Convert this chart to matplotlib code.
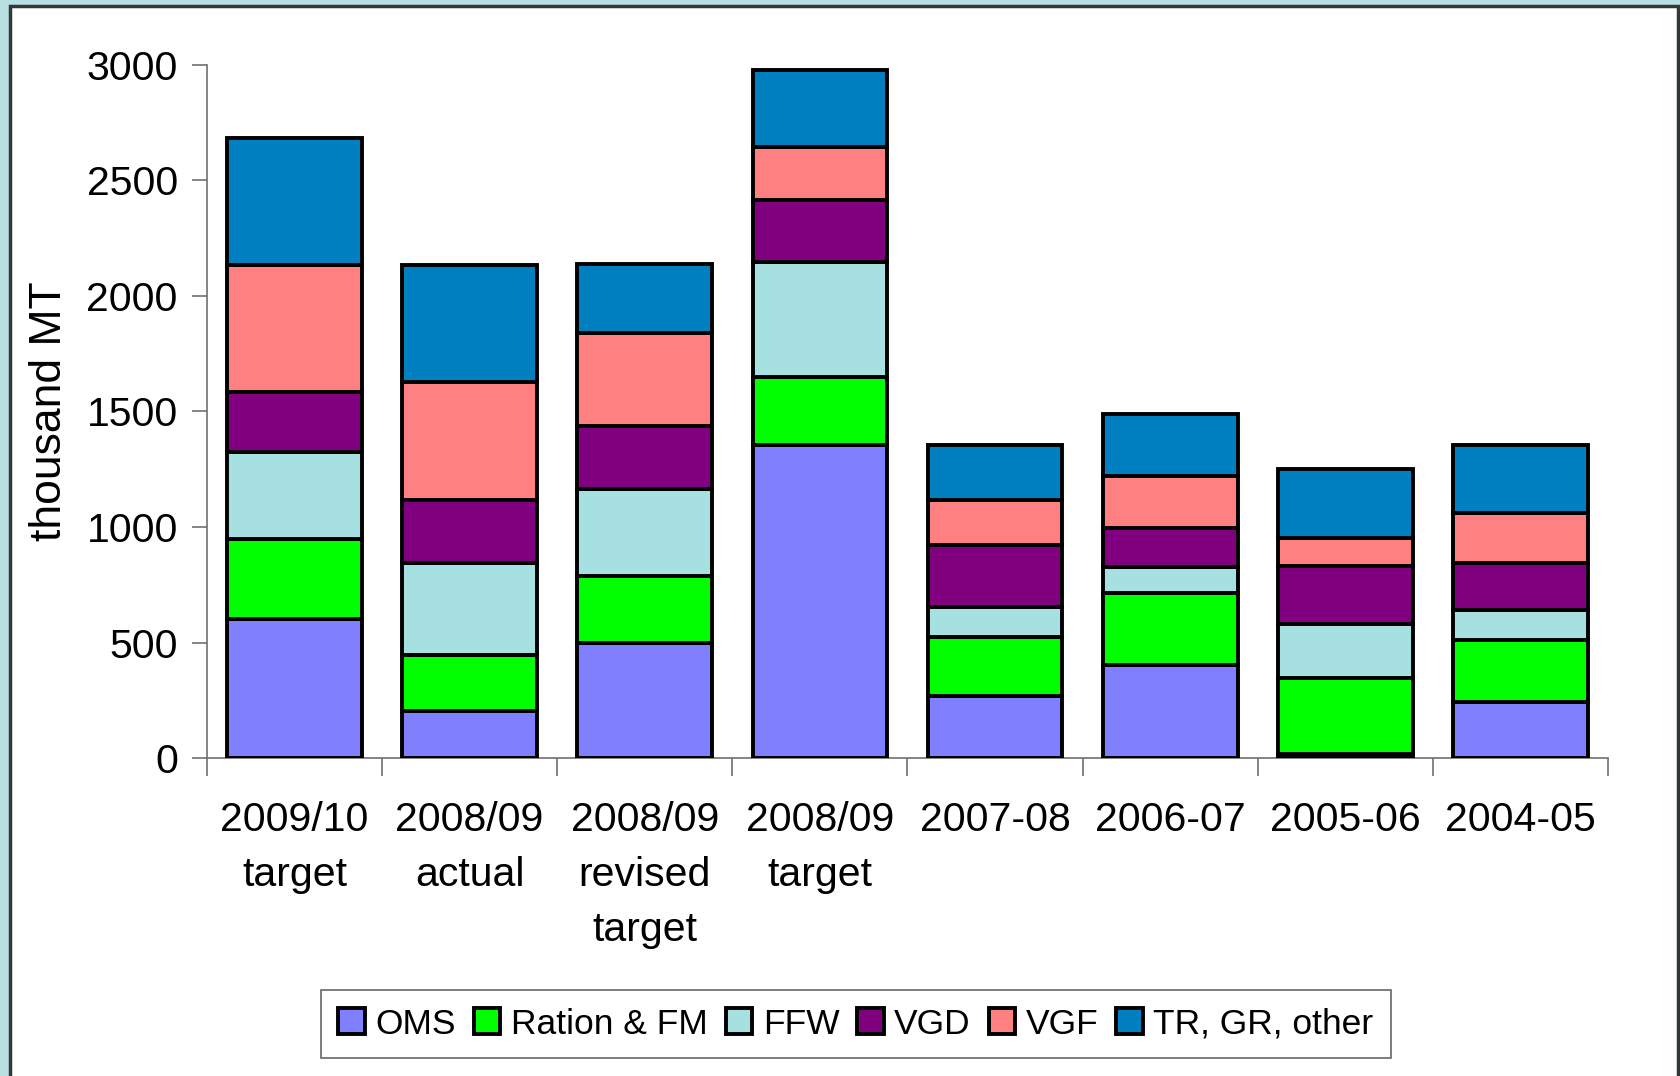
import numpy as np
import matplotlib
matplotlib.use("Agg")
import matplotlib.pyplot as plt
from matplotlib.patches import Rectangle

plt.rcParams['font.family'] = ['Liberation Sans', 'DejaVu Sans']

categories = ["2009/10\ntarget", "2008/09\nactual", "2008/09\nrevised\ntarget",
              "2008/09\ntarget", "2007-08", "2006-07", "2005-06", "2004-05"]
series_names = ["OMS", "Ration & FM", "FFW", "VGD", "VGF", "TR, GR, other"]
colors = ["#8080FF", "#00FF00", "#A6E0E0", "#800080", "#FF8080", "#0080C0"]

oms    = [600, 204, 497, 1356, 269, 404, 18, 242]
ration = [350, 242, 293, 293, 256, 311, 330, 269]
ffw    = [375, 400, 376, 497, 130, 112, 233, 130]
vgd    = [260, 270, 270, 269, 269, 167, 250, 204]
vgf    = [550, 510, 404, 228, 191, 228, 121, 214]
tr     = [550, 510, 298, 334, 241, 269, 297, 297]

fig = plt.figure(figsize=(16.81, 10.76), dpi=100)
fig.patch.set_facecolor("#B8E0E3")
# white slide panel with dark border
fig.patches.append(Rectangle((10/1681, -0.05), (1678-10)/1681, 1 - 6/1076 + 0.05,
                             transform=fig.transFigure, facecolor="white",
                             edgecolor="#303838", linewidth=2.5, zorder=-1))

ax = fig.add_axes([207/1681, 1 - 758/1076, (1608-207)/1681, (758-65)/1076])
ax.set_facecolor("none")

x = np.arange(len(categories))
bottom = np.zeros(len(categories))
for name, vals, c in zip(series_names, [oms, ration, ffw, vgd, vgf, tr], colors):
    ax.bar(x, vals, width=0.77, bottom=bottom, color=c, edgecolor="black",
           linewidth=2.8, label=name, zorder=3)
    bottom += np.array(vals)

ax.set_xlim(-0.5, len(categories) - 0.5)
ax.set_ylim(0, 3000)
ax.set_yticks(range(0, 3001, 500))
ax.tick_params(axis="y", labelsize=29.5, length=11, width=1.2, color="#707070",
               direction="out", pad=10)
ax.set_xticks(x)
ax.set_xticklabels(categories, fontsize=29.5, linespacing=1.56)
ax.tick_params(axis="x", which="major", length=0, pad=31)
ax.set_xticks(np.arange(-0.5, len(categories), 1), minor=True)
ax.tick_params(axis="x", which="minor", length=13, width=1.2, color="#707070",
               direction="out")

for s in ["top", "right"]:
    ax.spines[s].set_visible(False)
for s in ["left", "bottom"]:
    ax.spines[s].set_color("#707070")
    ax.spines[s].set_linewidth(1.2)

ax.set_ylabel("thousand MT", fontsize=32, labelpad=12)

leg = fig.legend(loc="center", bbox_to_anchor=(856/1681, 1 - 1024/1076), ncol=6,
                 fontsize=25.5, frameon=True, fancybox=False, edgecolor="#404040",
                 handlelength=0.75, handleheight=0.75, handletextpad=0.3,
                 columnspacing=0.5, borderpad=0.5)
leg.get_frame().set_linewidth(1.2)

fig.savefig("out.png", dpi=100, facecolor=fig.get_facecolor())
